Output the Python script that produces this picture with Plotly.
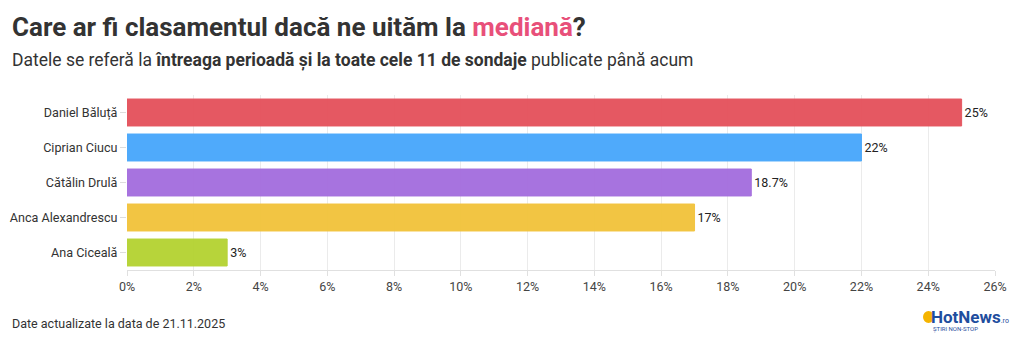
import plotly.graph_objects as go

names = ["Daniel Băluță", "Ciprian Ciucu", "Cătălin Drulă", "Anca Alexandrescu", "Ana Ciceală"]
values = [25, 22, 18.7, 17, 3]
labels = ["25%", "22%", "18.7%", "17%", "3%"]
colors = ["#e5535d", "#4aa8fb", "#a56fde", "#f2c43d", "#b5d334"]
xticks = list(range(0, 27, 2))
xticktext = [f"{v}%" for v in xticks]

FONT = "Roboto, sans-serif"

fig = go.Figure(go.Bar(
    y=names, x=values, orientation="h",
    marker=dict(color=colors, line=dict(color=colors, width=1), opacity=0.97),
    text=labels, textposition="outside", cliponaxis=False,
    textfont=dict(family=FONT, size=12.5, color="#222"),
    width=0.77,
))

fig.update_layout(
    width=1020, height=344,
    margin=dict(l=127, r=25, t=95, b=74, autoexpand=False),
    paper_bgcolor="white", plot_bgcolor="white",
    font=dict(family=FONT, color="#333"),
    showlegend=False,
    xaxis=dict(range=[0, 26], tickvals=xticks, ticktext=xticktext, automargin=False,
               showgrid=True, gridcolor="#ebebeb", gridwidth=1, zeroline=False,
               ticks="outside", ticklen=5, tickcolor="#e0e0e0",
               tickfont=dict(family=FONT, size=12.5, color="#444"),
               showline=True, linecolor="#e0e0e0", fixedrange=True),
    yaxis=dict(autorange="reversed", categoryorder="array", categoryarray=names, automargin=False,
               ticks="outside", ticklen=6, tickcolor="#dddddd",
               tickfont=dict(family=FONT, size=12.6, color="#333"),
               showline=False, showgrid=False, fixedrange=True),
    annotations=[
        dict(text="<b>Care ar fi clasamentul dacă ne uităm la <span style='color:#e8507a'>mediană</span>?</b>",
             x=10, y=27, xanchor="left", yanchor="middle", showarrow=False,
             font=dict(family=FONT, size=26, color="#333")),
        dict(text="Datele se referă la <b>întreaga perioadă și la toate cele 11 de sondaje</b> publicate până acum",
             x=10, y=61, xanchor="left", yanchor="middle", showarrow=False,
             font=dict(family=FONT, size=17.5, color="#333")),
        dict(text="Date actualizate la data de 21.11.2025",
             x=10, y=323, xanchor="left", yanchor="middle", showarrow=False,
             font=dict(family=FONT, size=12.5, color="#333")),
        dict(text="<b>HotNews</b><span style='font-size:7px'>.ro</span>",
             x=929, y=317, xanchor="left", yanchor="middle", showarrow=False,
             font=dict(family=FONT, size=17, color="#1f4e9e")),
        dict(text="ȘTIRI NON-STOP",
             x=931, y=329, xanchor="left", yanchor="middle", showarrow=False,
             font=dict(family=FONT, size=6, color="#1f4e9e")),
    ],
)

W, H = 1020, 344
pl, pr, pt, pb = 127, 25, 95, 74
pw, ph = W - pl - pr, H - pt - pb
for a in fig.layout.annotations:
    px, py = a.x, a.y
    a.xref = "paper"; a.yref = "paper"
    a.x = (px - pl) / pw
    a.y = 1 - (py - pt) / ph

fig.add_shape(type="circle", xref="paper", yref="paper",
              x0=(923 - pl) / pw, x1=(934 - pl) / pw,
              y0=1 - (323 - pt) / ph, y1=1 - (311 - pt) / ph,
              fillcolor="#f5b400", line=dict(width=0), layer="below")

fig.write_html("out.html")
